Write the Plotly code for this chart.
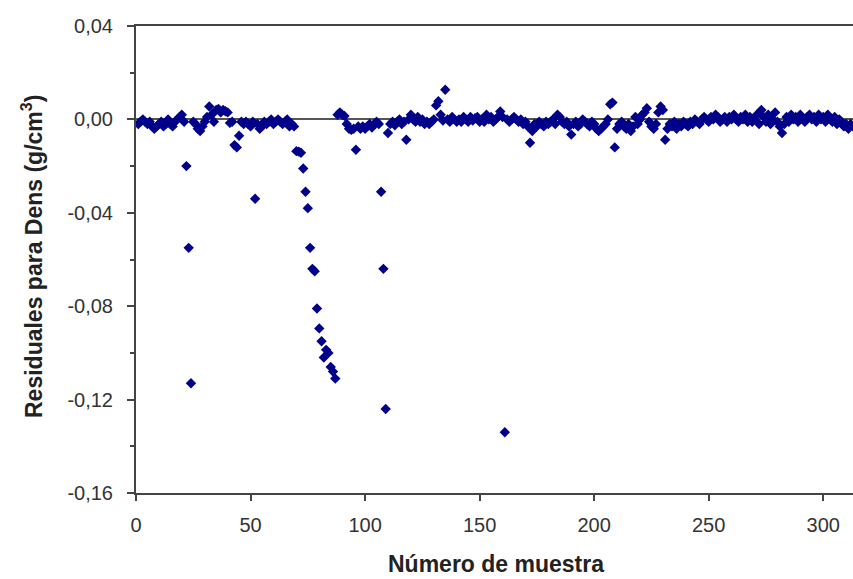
import plotly.graph_objects as go

muestra = list(range(1, 314))

residual = [
    -0.002, -0.001, 0.000, -0.001, -0.002, -0.001, -0.003, -0.004, -0.003, -0.002,   # 1-10
    -0.001, -0.003, -0.002, 0.000, -0.002, -0.003, -0.001, 0.000, 0.001, 0.002,     # 11-20
    -0.001, -0.020, -0.055, -0.113, -0.001, -0.002, -0.004, -0.005, -0.003, -0.001, # 21-30
    0.001, 0.0055, 0.002, -0.001, 0.004, 0.0045, 0.003, 0.004, 0.0035, 0.003,       # 31-40
    -0.0015, -0.001, -0.011, -0.012, -0.007, -0.001, -0.002, -0.001, -0.002, -0.003, # 41-50
    -0.001, -0.034, -0.002, -0.004, -0.003, -0.001, -0.002, -0.001, 0.000, -0.002,  # 51-60
    -0.001, 0.000, -0.001, -0.002, -0.001, 0.000, -0.003, -0.002, -0.003, -0.0136,  # 61-70
    -0.0138, -0.0143, -0.021, -0.031, -0.038, -0.055, -0.064, -0.065, -0.081, -0.0895, # 71-80
    -0.095, -0.102, -0.0987, -0.100, -0.106, -0.108, -0.111, 0.002, 0.003, 0.002,   # 81-90
    0.0015, -0.002, -0.004, -0.0045, -0.004, -0.013, -0.003, -0.004, -0.003, -0.004, # 91-100
    -0.003, -0.002, -0.0035, -0.002, -0.001, -0.002, -0.031, -0.064, -0.124, -0.0058, # 101-110
    -0.002, -0.001, -0.0025, -0.001, 0.000, -0.002, -0.001, -0.0087, 0.000, 0.002,  # 111-120
    0.000, -0.001, 0.001, -0.001, 0.000, -0.002, -0.001, -0.002, -0.001, 0.000,     # 121-130
    0.006, 0.0078, 0.002, -0.0005, 0.0127, 0.000, -0.001, 0.001, 0.000, -0.001,     # 131-140
    0.000, -0.001, 0.001, 0.000, -0.001, 0.001, -0.0005, 0.0005, 0.001, -0.001,     # 141-150
    0.000, -0.001, 0.002, 0.000, 0.001, -0.001, 0.000, 0.001, 0.0034, 0.001,        # 151-160
    -0.134, 0.000, -0.001, 0.000, 0.001, 0.000, -0.001, 0.000, -0.002, -0.001,      # 161-170
    -0.003, -0.010, -0.005, -0.002, -0.003, -0.001, -0.002, -0.003, -0.001, -0.002, # 171-180
    -0.001, 0.000, -0.002, 0.002, 0.001, -0.001, -0.002, -0.001, -0.003, -0.0065,   # 181-190
    -0.002, -0.001, -0.003, -0.002, 0.000, -0.001, -0.002, -0.003, -0.001, -0.002,  # 191-200
    -0.004, -0.005, -0.004, -0.003, -0.002, 0.000, 0.0065, 0.0072, -0.012, -0.004,  # 201-210
    -0.002, -0.001, -0.003, -0.004, -0.002, -0.005, -0.003, 0.001, -0.002, 0.000,   # 211-220
    0.002, 0.003, 0.0048, -0.001, -0.003, -0.004, -0.002, 0.003, 0.0055, 0.004,     # 221-230
    -0.0087, -0.004, -0.002, -0.003, -0.001, -0.004, -0.002, -0.003, -0.001, -0.002, # 231-240
    -0.003, -0.001, -0.002, 0.000, -0.001, -0.002, 0.000, 0.001, 0.000, -0.001,     # 241-250
    0.001, 0.000, 0.002, 0.001, -0.001, 0.000, 0.001, -0.001, 0.001, 0.000,         # 251-260
    0.002, 0.000, -0.001, 0.001, 0.000, 0.002, -0.001, 0.001, -0.001, 0.000,        # 261-270
    0.002, -0.002, 0.004, 0.001, -0.001, 0.002, -0.002, 0.000, 0.003, -0.001,       # 271-280
    -0.003, -0.0058, -0.002, 0.001, -0.001, 0.002, 0.000, 0.001, -0.001, 0.002,     # 281-290
    0.000, -0.001, 0.001, 0.002, 0.000, 0.001, -0.001, 0.002, 0.000, 0.001,         # 291-300
    -0.001, 0.002, 0.000, -0.001, 0.001, -0.002, 0.000, -0.001, -0.003, -0.002,     # 301-310
    -0.004, -0.002, -0.003,                                                          # 311-313
]

x_ticks = [0, 50, 100, 150, 200, 250, 300]
y_ticks = [-0.16, -0.12, -0.08, -0.04, 0.00, 0.04]
y_tick_labels = ["-0,16", "-0,12", "-0,08", "-0,04", "0,00", "0,04"]

x_title = "Número de muestra"
y_title = "Residuales para Dens (g/cm<sup>3</sup>)"

fig = go.Figure()
fig.add_trace(go.Scatter(
    x=muestra, y=residual, mode="markers",
    marker=dict(symbol="diamond", size=8, color="#00008B", line=dict(width=0)),
    showlegend=False,
))

axis_col = "#444444"
font_fam = "Liberation Sans, Arial, sans-serif"
tick_font = dict(family=font_fam, size=20, color="#333333")
title_font = dict(family=font_fam, size=23, color="#222222")

L, R, T, B = 136, 0, 26, 86
pw, ph = 853 - L - R, 579 - T - B

fig.update_layout(
    width=853, height=579,
    margin=dict(l=L, r=R, t=T, b=B),
    paper_bgcolor="white", plot_bgcolor="white",
    xaxis=dict(
        range=[0, 313], tickvals=x_ticks, ticks="outside", ticklen=6, tickwidth=1.5,
        tickcolor=axis_col, showline=True, linecolor=axis_col, linewidth=2,
        mirror=True, showgrid=False, zeroline=False, tickfont=tick_font,
        ticklabelstandoff=7,
    ),
    yaxis=dict(
        range=[-0.16, 0.04], tickvals=y_ticks, ticktext=y_tick_labels, ticks="outside",
        ticklen=7, tickwidth=1.5, tickcolor=axis_col, showline=True,
        linecolor=axis_col, linewidth=2, showgrid=False,
        zeroline=True, zerolinecolor="#555555", zerolinewidth=2,
        tickfont=tick_font, ticklabelstandoff=10,
        minor=dict(dtick=0.02, tick0=0, ticks="outside", ticklen=4,
                   tickcolor=axis_col, tickwidth=1.5, showgrid=False),
    ),
    annotations=[
        dict(text="<b>" + x_title + "</b>", xref="paper", yref="paper",
             x=(496 - L) / pw, y=-(564 - (T + ph)) / ph,
             xanchor="center", yanchor="middle", showarrow=False, font=title_font),
        dict(text="<b>" + y_title + "</b>", xref="paper", yref="paper",
             x=-(L - 32) / pw, y=((T + ph) - 257) / ph,
             xanchor="center", yanchor="middle", showarrow=False,
             textangle=-90, font=title_font),
    ],
)

fig.write_html("out.html")
